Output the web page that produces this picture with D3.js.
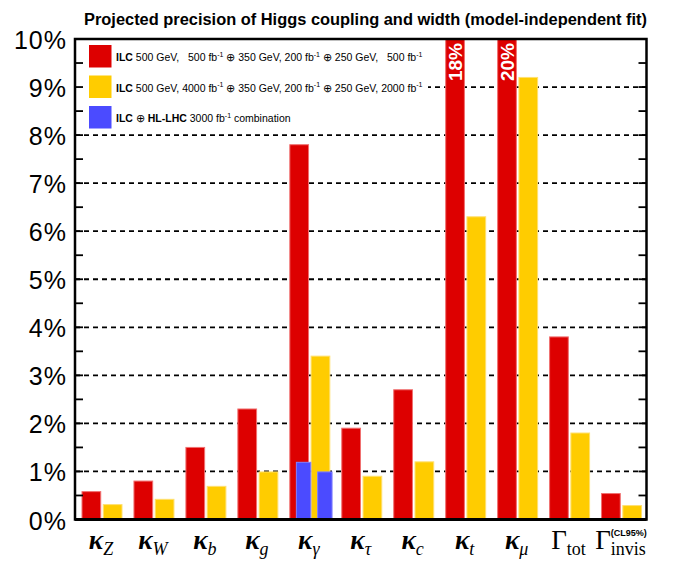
<!DOCTYPE html>
<html>
<head>
<meta charset="utf-8">
<script src="https://cdn.jsdelivr.net/npm/d3@7"></script>
<style>
  html, body { margin: 0; padding: 0; background: #fff; }
  svg { display: block; }
</style>
</head>
<body>
<svg id="chart" width="673" height="579"></svg>
<script>
// ---------------- data ----------------
const categories   = ["kZ", "kW", "kb", "kg", "kgamma", "ktau", "kc", "kt", "kmu", "Gtot", "Ginvis"];
const mainSymbols  = ["κ", "κ", "κ", "κ", "κ", "κ", "κ", "κ", "κ", "Γ", "Γ"];
const subscripts   = ["Z", "W", "b", "g", "γ", "τ", "c", "t", "μ", "tot", "invis"];
const superscripts = ["", "", "", "", "", "", "", "", "", "", "(CL95%)"];
const ilc500       = [0.58, 0.80, 1.50, 2.30, 7.80, 1.90, 2.70, 18, 20, 3.80, 0.54];
const ilcUpgrade   = [0.31, 0.42, 0.69, 0.99, 3.40, 0.90, 1.20, 6.30, 9.20, 1.80, 0.29];
const combinedCategory = "kgamma";
const combinedValues   = [1.19, 0.99];   // ILC ⊕ HL-LHC, for each ILC scenario
const yTicks      = [0, 1, 2, 3, 4, 5, 6, 7, 8, 9, 10];
const yTickLabels = ["0%", "1%", "2%", "3%", "4%", "5%", "6%", "7%", "8%", "9%", "10%"];
const yMinorTicks = [0.5, 1.5, 2.5, 3.5, 4.5, 5.5, 6.5, 7.5, 8.5, 9.5];
const seriesKeys  = ["ilc500", "ilcUpgrade"];
const titleText   = "Projected precision of Higgs coupling and width (model-independent fit)";

(function draw() {
const svg = d3.select("#chart");
const pL = 75, pR = 646.5, pT = 39, pB = 519.5;
const colors = { ilc500: "#dd0000", ilcUpgrade: "#ffcc00", combined: "#4b4bff" };
const strokes = { ilc500: "#f07070", ilcUpgrade: "#ffe070", combined: "#8080ff" };

const x = d3.scaleBand().domain(categories).range([pL, pR]).padding(0);
const xSub = d3.scaleBand().domain(seriesKeys).range([7, 47]).paddingInner(0.12);
const y = d3.scaleLinear().domain([0, 10]).range([pB, pT]);
const yMax = 10;

// title
svg.append("text")
  .attr("x", 84).attr("y", 25)
  .attr("font-family", "Liberation Sans, Arial, sans-serif")
  .attr("font-weight", "bold").attr("font-size", 16)
  .attr("textLength", 563).attr("lengthAdjust", "spacingAndGlyphs")
  .text(titleText);

// grid lines (dashed)
svg.append("g").selectAll("line")
  .data(yTicks.filter(t => t > 0 && t < 10))
  .join("line")
  .attr("x1", pL).attr("x2", pR)
  .attr("y1", d => y(d)).attr("y2", d => y(d))
  .attr("stroke", "#000").attr("stroke-width", 1.8)
  .attr("stroke-dasharray", "5,4");

// legend background (hides gridlines)
svg.append("rect")
  .attr("x", pL + 1).attr("y", pT + 1)
  .attr("width", 352).attr("height", 92)
  .attr("fill", "#fff");

// bars
const barData = [];
categories.forEach((c, i) => {
  barData.push({ cat: c, key: "ilc500", value: ilc500[i] });
  barData.push({ cat: c, key: "ilcUpgrade", value: ilcUpgrade[i] });
});
svg.append("g").selectAll("rect")
  .data(barData)
  .join("rect")
  .attr("x", d => x(d.cat) + xSub(d.key))
  .attr("width", xSub.bandwidth())
  .attr("y", d => y(Math.min(d.value, yMax)))
  .attr("height", d => y(0) - y(Math.min(d.value, yMax)))
  .attr("fill", d => colors[d.key])
  .attr("stroke", d => strokes[d.key]).attr("stroke-width", 1);

// combined (blue) bars, overlaid
svg.append("g").selectAll("rect")
  .data(combinedValues.map((v, j) => ({ key: seriesKeys[j], value: v })))
  .join("rect")
  .attr("x", d => x(combinedCategory) + xSub(d.key) + xSub.bandwidth() * 0.35)
  .attr("width", xSub.bandwidth() * 0.77)
  .attr("y", d => y(d.value))
  .attr("height", d => y(0) - y(d.value))
  .attr("fill", colors.combined)
  .attr("stroke", strokes.combined).attr("stroke-width", 1);

// off-scale value labels
svg.append("g").selectAll("text")
  .data(barData.filter(d => d.value > yMax))
  .join("text")
  .attr("transform", d => `translate(${x(d.cat) + xSub(d.key) + xSub.bandwidth() / 2 + 0.5},${pT + 4}) rotate(-90)`)
  .attr("text-anchor", "end")
  .attr("dominant-baseline", "central")
  .attr("font-family", "Liberation Sans, Arial, sans-serif")
  .attr("font-weight", "bold").attr("font-size", 19)
  .attr("fill", "#fff")
  .text(d => d.value + "%");

// frame
svg.append("rect")
  .attr("x", pL).attr("y", pT)
  .attr("width", pR - pL).attr("height", pB - pT)
  .attr("fill", "none").attr("stroke", "#000").attr("stroke-width", 2.5);
svg.append("line")
  .attr("x1", pL).attr("x2", pR).attr("y1", pB).attr("y2", pB)
  .attr("stroke", "#000").attr("stroke-width", 3);

// ticks left and right (every 0.5%)
const allTicks = yTicks.filter(t => t > 0 && t < 10).concat(yMinorTicks);
svg.append("g").selectAll("line")
  .data(allTicks).join("line")
  .attr("x1", pL).attr("x2", pL + 8)
  .attr("y1", d => y(d)).attr("y2", d => y(d))
  .attr("stroke", "#000").attr("stroke-width", 1.8);
svg.append("g").selectAll("line")
  .data(allTicks).join("line")
  .attr("x1", pR - 8).attr("x2", pR)
  .attr("y1", d => y(d)).attr("y2", d => y(d))
  .attr("stroke", "#000").attr("stroke-width", 1.8);

// y tick labels
svg.append("g").selectAll("text")
  .data(yTicks).join("text")
  .attr("x", 67).attr("y", d => y(d) + 1)
  .attr("text-anchor", "end")
  .attr("dominant-baseline", "central")
  .attr("font-family", "Liberation Sans, Arial, sans-serif")
  .attr("font-size", 25)
  .attr("letter-spacing", 1)
  .text((d, i) => yTickLabels[i]);

// x labels
const xl = svg.append("g");
categories.forEach((c, i) => {
  const isItalicSub = !["tot", "invis"].includes(subscripts[i]);
  const isKappa = mainSymbols[i] === "κ";
  const t = xl.append("text")
    .attr("x", x(c) + x.bandwidth() / 2)
    .attr("y", 549)
    .attr("text-anchor", "middle")
    .attr("font-family", "Liberation Serif, Times New Roman, serif");
  t.append("tspan")
    .attr("font-size", isKappa ? 27 : 27)
    .attr("font-weight", isKappa ? "bold" : "normal")
    .attr("font-style", isKappa ? "italic" : "normal")
    .text(mainSymbols[i]);
  t.append("tspan")
    .attr("dy", 6)
    .attr("font-size", 18)
    .attr("font-style", isItalicSub ? "italic" : "normal")
    .text(subscripts[i]);
  if (superscripts[i]) {
    const sx = t.node().getStartPositionOfChar(1).x;
    xl.append("text")
      .attr("x", sx).attr("y", 536)
      .attr("font-family", "Liberation Sans, Arial, sans-serif")
      .attr("font-weight", "bold").attr("font-size", 9)
      .text(superscripts[i]);
  }
});

// legend
const legendRows = [
  { key: "ilc500", parts: [["ILC", "b"], [" 500 GeV,   500 fb", ""], ["-1", "sup"], [" ⊕ 350 GeV, 200 fb", ""], ["-1", "sup"], [" ⊕ 250 GeV,   500 fb", ""], ["-1", "sup"]] },
  { key: "ilcUpgrade", parts: [["ILC", "b"], [" 500 GeV, 4000 fb", ""], ["-1", "sup"], [" ⊕ 350 GeV, 200 fb", ""], ["-1", "sup"], [" ⊕ 250 GeV, 2000 fb", ""], ["-1", "sup"]] },
  { key: "combined", parts: [["ILC", "b"], [" ⊕ ", ""], ["HL-LHC", "b"], [" 3000 fb", ""], ["-1", "sup"], [" combination", ""]] }
];
const lg = svg.append("g");
legendRows.forEach((row, r) => {
  const ry = 45 + r * 30.5;
  lg.append("rect")
    .attr("x", 89).attr("y", ry).attr("width", 22.5).attr("height", 22.5)
    .attr("fill", colors[row.key]);
  const t = lg.append("text")
    .attr("x", 116).attr("y", ry + 16)
    .attr("font-family", "Liberation Sans, Arial, sans-serif")
    .attr("font-size", 10.5)
    .attr("xml:space", "preserve")
    .style("white-space", "pre");
  let prevSup = false;
  row.parts.forEach(([s, style]) => {
    const ts = t.append("tspan").text(s);
    if (style === "b") ts.attr("font-weight", "bold");
    if (style === "sup") {
      ts.attr("font-size", 7).attr("dy", -4.5);
      prevSup = true;
    } else if (prevSup) {
      ts.attr("dy", 4.5);
      prevSup = false;
    }
  });
});
})();
</script>
</body>
</html>
